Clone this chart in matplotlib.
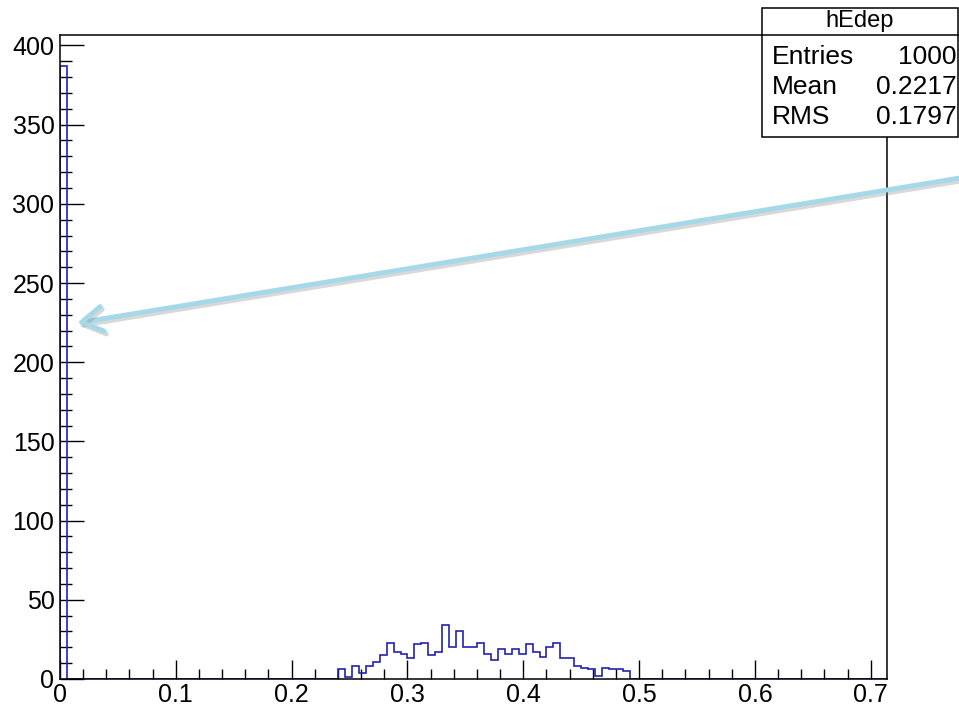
import matplotlib
matplotlib.use('Agg')
import matplotlib.pyplot as plt
import matplotlib.patheffects as pe
from matplotlib.patches import FancyArrowPatch, Rectangle
from matplotlib.ticker import MultipleLocator, FuncFormatter
import numpy as np

plt.rcParams['font.family'] = ['Liberation Sans', 'DejaVu Sans']

# histogram hEdep: 119 bins of width 0.006 from 0
bin_width = 0.006
n_bins = 119
first_bin_count = 387          # bin 0
peak_start_bin = 40            # bins 40..81 below
peak_counts = [6, 1, 8, 4, 8, 11, 15, 23, 17, 16,
               13, 22, 23, 15, 17, 34, 20, 30, 20, 20,
               23, 16, 12, 19, 16, 19, 16, 22, 17, 14,
               20, 23, 13, 13, 8, 7, 6, 2, 7, 6,
               6, 5]

stat_names = ['Entries', 'Mean', 'RMS']
stat_values = ['1000', '0.2217', '0.1797']
hist_name = 'hEdep'

counts = np.zeros(n_bins)
counts[0] = first_bin_count
counts[peak_start_bin:peak_start_bin + len(peak_counts)] = peak_counts
edges = np.arange(n_bins + 1) * bin_width

W, H = 959, 710
fig = plt.figure(figsize=(W / 100, H / 100), dpi=100)
ax = fig.add_axes([60 / W, (H - 679) / H, 827 / W, 644 / H])

ax.stairs(counts, edges, color='#2222b0', linewidth=1.2, baseline=0, zorder=2)

ax.set_xlim(0, edges[-1])
ax.set_ylim(0, 406.6)
ax.xaxis.set_major_locator(MultipleLocator(0.1))
ax.xaxis.set_minor_locator(MultipleLocator(0.02))
ax.yaxis.set_major_locator(MultipleLocator(50))
ax.yaxis.set_minor_locator(MultipleLocator(10))
ax.xaxis.set_major_formatter(FuncFormatter(lambda v, p: '0' if abs(v) < 1e-9 else f'{v:.1f}'))
ax.yaxis.set_major_formatter(FuncFormatter(lambda v, p: f'{int(round(v))}'))

ax.tick_params(axis='x', which='major', direction='in', length=14, width=1, labelsize=18, pad=3)
ax.tick_params(axis='x', which='minor', direction='in', length=7, width=1)
ax.tick_params(axis='y', which='major', direction='in', length=17, width=1, labelsize=18, pad=4)
ax.tick_params(axis='y', which='minor', direction='in', length=8.5, width=1)
for s in ax.spines.values():
    s.set_linewidth(1.1)
    s.set_zorder(3)

# stats box
def fx(px):
    return px / W

def fy(py):
    return (H - py) / H

box = Rectangle((fx(762), fy(137)), fx(958) - fx(762), fy(8) - fy(137),
                transform=fig.transFigure, facecolor='white', edgecolor='black',
                linewidth=1.1, zorder=5)
fig.add_artist(box)
fig.add_artist(plt.Line2D([fx(762), fx(958)], [fy(35), fy(35)],
                          transform=fig.transFigure, color='black', linewidth=1.1, zorder=6))
fig.text(fx(860), fy(21), hist_name, ha='center', va='center', fontsize=17, zorder=7)
for i, (name, val) in enumerate(zip(stat_names, stat_values)):
    y = fy(57 + i * 30)
    fig.text(fx(772), y, name, ha='left', va='center', fontsize=19, zorder=7)
    fig.text(fx(957), y, val, ha='right', va='center', fontsize=19, zorder=7)

# arrow
arrow = FancyArrowPatch((fx(975), fy(175.5)), (fx(77), fy(323)),
                        transform=fig.transFigure,
                        arrowstyle='->,head_length=0.75,head_width=0.45',
                        mutation_scale=20, shrinkA=0, shrinkB=0,
                        color='#a6d9e8', linewidth=3.5, zorder=8,
                        capstyle='round', joinstyle='round',
                        path_effects=[pe.SimpleLineShadow(offset=(1.5, -2), alpha=0.3, shadow_color='gray'),
                                      pe.Normal()])
fig.add_artist(arrow)

fig.savefig('out.png', dpi=100)
